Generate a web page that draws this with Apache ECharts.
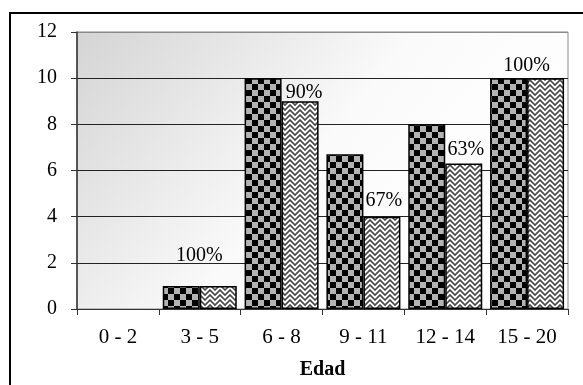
<!DOCTYPE html>
<html>
<head>
<meta charset="utf-8">
<script src="https://cdn.jsdelivr.net/npm/echarts@6/dist/echarts.min.js"></script>
<style>
  html, body { margin: 0; padding: 0; background: #fff; }
  #chart { width: 583px; height: 385px; }
</style>
</head>
<body>
<div id="chart"></div>
<script>
// Age groups and counts
const categories = ['0 - 2', '3 - 5', '6 - 8', '9 - 11', '12 - 14', '15 - 20'];
const total = [0, 1, 10, 6.7, 8, 10];
const positive = [0, 1, 9, 4, 6.3, 10];
const pctLabels = ['', '100%', '90%', '67%', '63%', '100%'];
const yTicks = { min: 0, max: 12, interval: 2 };

// Fill patterns for the two series
function checkerPattern() {
  const c = document.createElement('canvas');
  c.width = 12; c.height = 12;
  const g = c.getContext('2d');
  g.fillStyle = '#b3b3b3';
  g.fillRect(0, 0, 12, 12);
  g.fillStyle = '#000';
  g.fillRect(0, 0, 6, 6);
  g.fillRect(6, 6, 6, 6);
  return c;
}
function zigzagPattern() {
  const c = document.createElement('canvas');
  c.width = 10; c.height = 10;
  const g = c.getContext('2d');
  g.fillStyle = '#fff';
  g.fillRect(0, 0, 10, 10);
  g.strokeStyle = '#4a4a4a';
  g.lineWidth = 1.6;
  g.beginPath();
  for (let y = -10; y <= 10; y += 5) {
    g.moveTo(-1, y - 1); g.lineTo(5, y + 5); g.lineTo(11, y - 1);
  }
  g.stroke();
  return c;
}

// Per-bar placement of the percentage labels: [x offset, gap above bar]
const labelPlacement = [
  [0, 0], [-19, 20], [4, -1], [2, 6], [2, 4], [-19, 2]
];

const FONT = 'Liberation Serif';

const chart = echarts.init(document.getElementById('chart'), null, { renderer: 'canvas' });

chart.setOption({
  animation: false,
  backgroundColor: '#fff',
  textStyle: { fontFamily: FONT },
  grid: {
    left: 77, right: 15, top: 32, bottom: 75,
    show: true,
    borderColor: '#8a8a8a',
    borderWidth: 1,
    backgroundColor: {
      type: 'linear', x: 0, y: 0, x2: 0.7, y2: 1,
      colorStops: [
        { offset: 0, color: '#d4d4d4' },
        { offset: 0.6, color: '#fafafa' },
        { offset: 1, color: '#ffffff' }
      ]
    }
  },
  graphic: [{
    type: 'rect',
    shape: { x: 10, y: 13, width: 620, height: 420 },
    style: { fill: 'none', stroke: '#000', lineWidth: 2 },
    silent: true
  }],
  xAxis: {
    type: 'category',
    data: categories,
    name: 'Edad',
    nameLocation: 'middle',
    nameGap: 51,
    nameTextStyle: { fontFamily: FONT, fontSize: 20, fontWeight: 'bold', color: '#000' },
    axisLine: { lineStyle: { color: '#333', width: 1 } },
    axisTick: { show: true, length: 6, lineStyle: { color: '#333' } },
    axisLabel: { fontFamily: FONT, fontSize: 21, color: '#000', margin: 18 }
  },
  yAxis: {
    type: 'value',
    min: yTicks.min, max: yTicks.max, interval: yTicks.interval,
    axisLine: { show: true, lineStyle: { color: '#333', width: 1.5 } },
    axisTick: { show: true, length: 6, lineStyle: { color: '#333' } },
    axisLabel: { fontFamily: FONT, fontSize: 20, color: '#000', margin: 20 },
    splitLine: {
      show: true,
      lineStyle: { color: ['#222', '#222', '#222', '#222', '#222', '#222', '#8a8a8a'], width: 1 }
    }
  },
  series: [
    {
      type: 'bar',
      data: total.map(v => ({ value: v, itemStyle: v === 0 ? { borderWidth: 0 } : {} })),
      barWidth: 37,
      barGap: '0%',
      itemStyle: {
        color: { image: checkerPattern(), repeat: 'repeat' },
        borderColor: '#000',
        borderWidth: 1.5
      }
    },
    {
      type: 'bar',
      data: positive.map((v, i) => ({
        value: v,
        itemStyle: v === 0 ? { borderWidth: 0 } : {},
        label: {
          show: pctLabels[i] !== '',
          formatter: pctLabels[i],
          position: 'top',
          distance: labelPlacement[i][1],
          offset: [labelPlacement[i][0], 0]
        }
      })),
      barWidth: 37,
      itemStyle: {
        color: { image: zigzagPattern(), repeat: 'repeat' },
        borderColor: '#000',
        borderWidth: 1.5
      },
      label: { fontFamily: FONT, fontSize: 20, color: '#000' }
    }
  ]
});
</script>
</body>
</html>
